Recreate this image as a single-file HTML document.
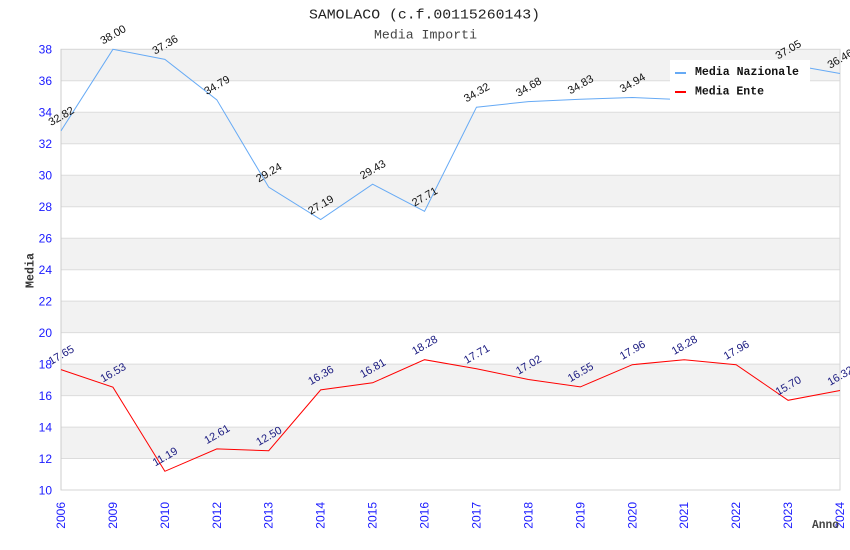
<!DOCTYPE html>
<html><head><meta charset="utf-8"><style>
html,body{margin:0;padding:0;background:#fff;}
svg{display:block;}
</style></head><body>
<svg width="850" height="550" xmlns="http://www.w3.org/2000/svg">
<rect x="0" y="0" width="850" height="550" fill="#fff"/>
<!-- bands -->
<g fill="#f2f2f2">
<rect x="61" y="49.3" width="779" height="31.5"/>
<rect x="61" y="112.3" width="779" height="31.4"/>
<rect x="61" y="175.2" width="779" height="31.5"/>
<rect x="61" y="238.2" width="779" height="31.5"/>
<rect x="61" y="301.1" width="779" height="31.5"/>
<rect x="61" y="364.1" width="779" height="31.5"/>
<rect x="61" y="427.1" width="779" height="31.4"/>
</g>
<g stroke="#dcdcdc" stroke-width="1">
<line x1="61" x2="840" y1="80.8" y2="80.8"/>
<line x1="61" x2="840" y1="112.3" y2="112.3"/>
<line x1="61" x2="840" y1="143.7" y2="143.7"/>
<line x1="61" x2="840" y1="175.2" y2="175.2"/>
<line x1="61" x2="840" y1="206.7" y2="206.7"/>
<line x1="61" x2="840" y1="238.2" y2="238.2"/>
<line x1="61" x2="840" y1="269.7" y2="269.7"/>
<line x1="61" x2="840" y1="301.1" y2="301.1"/>
<line x1="61" x2="840" y1="332.6" y2="332.6"/>
<line x1="61" x2="840" y1="364.1" y2="364.1"/>
<line x1="61" x2="840" y1="395.6" y2="395.6"/>
<line x1="61" x2="840" y1="427.1" y2="427.1"/>
<line x1="61" x2="840" y1="458.5" y2="458.5"/>
</g>
<!-- border -->
<rect x="61" y="49.3" width="779" height="440.7" fill="none" stroke="#d6d6d6" stroke-width="1"/>
<line x1="61" y1="49" x2="61" y2="490" stroke="#cccccc"/>
<!-- y tick labels -->
<g font-family="Liberation Sans, sans-serif" font-size="12" fill="#1a1aff" text-anchor="end">
<text x="52" y="53.5">38</text>
<text x="52" y="85">36</text>
<text x="52" y="116.5">34</text>
<text x="52" y="148">32</text>
<text x="52" y="179.5">30</text>
<text x="52" y="211">28</text>
<text x="52" y="242.5">26</text>
<text x="52" y="274">24</text>
<text x="52" y="305.5">22</text>
<text x="52" y="337">20</text>
<text x="52" y="368.5">18</text>
<text x="52" y="400">16</text>
<text x="52" y="431.5">14</text>
<text x="52" y="463">12</text>
<text x="52" y="494.5">10</text>
</g>
<!-- x tick labels -->
<g font-family="Liberation Sans, sans-serif" font-size="12" fill="#1a1aff" text-anchor="end">
<text transform="translate(65,502) rotate(-90)">2006</text>
<text transform="translate(116.9,502) rotate(-90)">2009</text>
<text transform="translate(168.9,502) rotate(-90)">2010</text>
<text transform="translate(220.8,502) rotate(-90)">2012</text>
<text transform="translate(272.7,502) rotate(-90)">2013</text>
<text transform="translate(324.7,502) rotate(-90)">2014</text>
<text transform="translate(376.6,502) rotate(-90)">2015</text>
<text transform="translate(428.5,502) rotate(-90)">2016</text>
<text transform="translate(480.5,502) rotate(-90)">2017</text>
<text transform="translate(532.4,502) rotate(-90)">2018</text>
<text transform="translate(584.3,502) rotate(-90)">2019</text>
<text transform="translate(636.3,502) rotate(-90)">2020</text>
<text transform="translate(688.2,502) rotate(-90)">2021</text>
<text transform="translate(740.1,502) rotate(-90)">2022</text>
<text transform="translate(792.1,502) rotate(-90)">2023</text>
<text transform="translate(844,502) rotate(-90)">2024</text>
</g>
<!-- series lines -->
<polyline fill="none" stroke="#66aaf5" stroke-width="1" points="61,130.8 112.93,49.3 164.87,59.4 216.8,99.8 268.73,187.2 320.67,219.5 372.6,184.2 424.53,211.3 476.47,107.2 528.4,101.6 580.33,99.2 632.27,97.5 684.2,99.7 736.13,80.8 788.07,64.3 840,73.5"/>
<polyline fill="none" stroke="#ff0000" stroke-width="1" points="61,369.6 112.93,387.2 164.87,471.3 216.8,448.9 268.73,450.7 320.67,389.9 372.6,382.8 424.53,359.7 476.47,368.7 528.4,379.5 580.33,386.9 632.27,364.7 684.2,359.7 736.13,364.7 788.07,400.3 840,390.5"/>
<!-- blue labels -->
<g font-family="Liberation Sans, sans-serif" font-size="11" fill="#111" text-anchor="middle">
<text transform="translate(61,115.8) rotate(-30)" dy="4">32.82</text>
<text transform="translate(112.93,34.3) rotate(-30)" dy="4">38.00</text>
<text transform="translate(164.87,44.4) rotate(-30)" dy="4">37.36</text>
<text transform="translate(216.8,84.8) rotate(-30)" dy="4">34.79</text>
<text transform="translate(268.73,172.2) rotate(-30)" dy="4">29.24</text>
<text transform="translate(320.67,204.5) rotate(-30)" dy="4">27.19</text>
<text transform="translate(372.6,169.2) rotate(-30)" dy="4">29.43</text>
<text transform="translate(424.53,196.3) rotate(-30)" dy="4">27.71</text>
<text transform="translate(476.47,92.2) rotate(-30)" dy="4">34.32</text>
<text transform="translate(528.4,86.6) rotate(-30)" dy="4">34.68</text>
<text transform="translate(580.33,84.2) rotate(-30)" dy="4">34.83</text>
<text transform="translate(632.27,82.5) rotate(-30)" dy="4">34.94</text>
<text transform="translate(788.07,49.3) rotate(-30)" dy="4">37.05</text>
<text transform="translate(840,58.5) rotate(-30)" dy="4">36.46</text>
</g>
<!-- red labels -->
<g font-family="Liberation Sans, sans-serif" font-size="11" fill="#1a1a80" text-anchor="middle">
<text transform="translate(61,354.6) rotate(-30)" dy="4">17.65</text>
<text transform="translate(112.93,372.2) rotate(-30)" dy="4">16.53</text>
<text transform="translate(164.87,456.3) rotate(-30)" dy="4">11.19</text>
<text transform="translate(216.8,433.9) rotate(-30)" dy="4">12.61</text>
<text transform="translate(268.73,435.7) rotate(-30)" dy="4">12.50</text>
<text transform="translate(320.67,374.9) rotate(-30)" dy="4">16.36</text>
<text transform="translate(372.6,367.8) rotate(-30)" dy="4">16.81</text>
<text transform="translate(424.53,344.7) rotate(-30)" dy="4">18.28</text>
<text transform="translate(476.47,353.7) rotate(-30)" dy="4">17.71</text>
<text transform="translate(528.4,364.5) rotate(-30)" dy="4">17.02</text>
<text transform="translate(580.33,371.9) rotate(-30)" dy="4">16.55</text>
<text transform="translate(632.27,349.7) rotate(-30)" dy="4">17.96</text>
<text transform="translate(684.2,344.7) rotate(-30)" dy="4">18.28</text>
<text transform="translate(736.13,349.7) rotate(-30)" dy="4">17.96</text>
<text transform="translate(788.07,385.3) rotate(-30)" dy="4">15.70</text>
<text transform="translate(840,375.5) rotate(-30)" dy="4">16.32</text>
</g>
<!-- legend -->
<rect x="670" y="60" width="140" height="45" fill="#ffffff"/>
<line x1="675" y1="73" x2="686" y2="73" stroke="#66aaf5" stroke-width="2"/>
<line x1="675" y1="92" x2="686" y2="92" stroke="#ff0000" stroke-width="2"/>
<g font-family="Liberation Mono, monospace" font-size="12" font-weight="bold" fill="#111">
<text x="695" y="75" textLength="104" lengthAdjust="spacingAndGlyphs">Media Nazionale</text>
<text x="695" y="94.3" textLength="69" lengthAdjust="spacingAndGlyphs">Media Ente</text>
</g>
<!-- titles -->
<text x="424.5" y="18.5" text-anchor="middle" font-family="Liberation Mono, monospace" font-size="14" fill="#222" textLength="231" lengthAdjust="spacingAndGlyphs">SAMOLACO (c.f.00115260143)</text>
<text x="425.5" y="38.5" text-anchor="middle" font-family="Liberation Mono, monospace" font-size="13" fill="#444" textLength="103" lengthAdjust="spacingAndGlyphs">Media Importi</text>
<text transform="translate(33.3,270.5) rotate(-90)" text-anchor="middle" font-family="Liberation Mono, monospace" font-size="12" font-weight="bold" fill="#333" textLength="35" lengthAdjust="spacingAndGlyphs">Media</text>
<text x="812" y="528" font-family="Liberation Mono, monospace" font-size="12" font-weight="bold" fill="#444" textLength="27" lengthAdjust="spacingAndGlyphs">Anno</text>
</svg>
</body></html>
